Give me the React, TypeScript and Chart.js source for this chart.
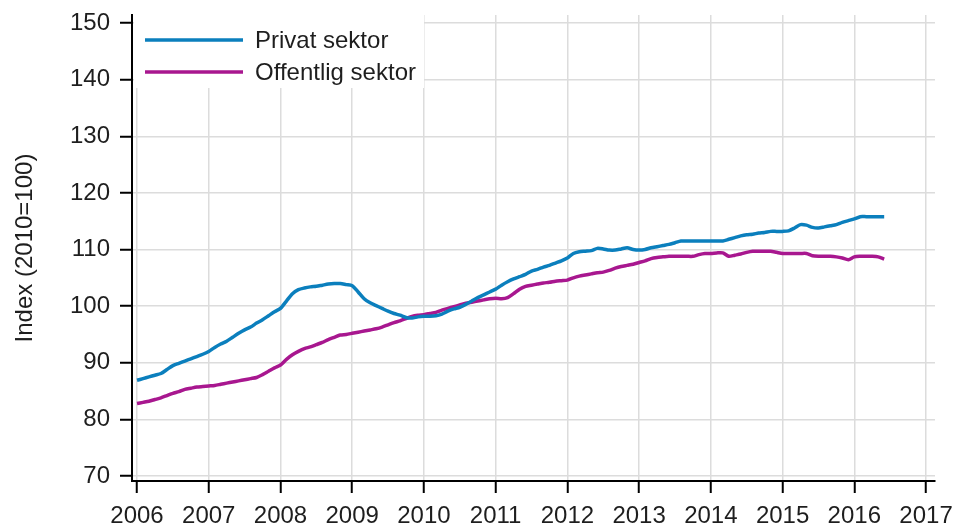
import React, { useEffect, useRef } from "react";
import { Chart, registerables } from "chart.js";

Chart.register(...registerables);

// Monthly index values, January 2006 – June 2016 (2010 = 100)
const startYear = 2006;

const privatSektor = [
  // 2006
  86.9, 87.2, 87.5, 87.8, 88.1, 88.8, 89.5, 89.9, 90.3, 90.7, 91.1, 91.5,
  // 2007
  92.0, 92.7, 93.3, 93.8, 94.5, 95.2, 95.8, 96.3, 97.0, 97.6, 98.3, 99.0,
  // 2008
  99.6, 100.9, 102.2, 102.9, 103.2, 103.4, 103.5, 103.7, 103.9, 104.0, 104.0, 103.8,
  // 2009
  103.6, 102.5, 101.3, 100.6, 100.1, 99.6, 99.1, 98.7, 98.4, 98.0, 97.9, 98.1,
  // 2010
  98.2, 98.2, 98.3, 98.6, 99.1, 99.5, 99.8, 100.3, 100.9, 101.5, 102.0, 102.5,
  // 2011
  103.0, 103.7, 104.3, 104.8, 105.2, 105.6, 106.2, 106.5, 106.9, 107.2, 107.6, 108.0,
  // 2012
  108.5, 109.3, 109.6, 109.7, 109.8, 110.2, 110.1, 109.9, 109.9, 110.1, 110.3, 110.0,
  // 2013
  109.9, 110.0, 110.3, 110.5, 110.7, 110.9, 111.2, 111.5, 111.5, 111.5, 111.5, 111.5,
  // 2014
  111.5, 111.5, 111.5, 111.8, 112.1, 112.4, 112.6, 112.7, 112.9, 113.0, 113.2, 113.2,
  // 2015
  113.2, 113.3, 113.8, 114.4, 114.3, 113.9, 113.8, 114.0, 114.2, 114.4, 114.8, 115.1,
  // 2016
  115.4, 115.8, 115.8, 115.8, 115.8, 115.8,
];

const offentligSektor = [
  // 2006
  82.8, 83.0, 83.2, 83.5, 83.8, 84.2, 84.6, 84.9, 85.3, 85.5, 85.7, 85.8,
  // 2007
  85.9, 86.0, 86.2, 86.4, 86.6, 86.8, 87.0, 87.2, 87.4, 87.9, 88.5, 89.1,
  // 2008
  89.6, 90.6, 91.4, 92.0, 92.5, 92.8, 93.2, 93.6, 94.1, 94.5, 94.9, 95.0,
  // 2009
  95.2, 95.4, 95.6, 95.8, 96.0, 96.3, 96.7, 97.1, 97.4, 97.8, 98.2, 98.4,
  // 2010
  98.5, 98.7, 98.9, 99.3, 99.6, 99.9, 100.2, 100.5, 100.7, 100.9, 101.1, 101.3,
  // 2011
  101.4, 101.3, 101.5, 102.2, 103.0, 103.5, 103.7, 103.9, 104.1, 104.2, 104.4, 104.5,
  // 2012
  104.6, 105.0, 105.3, 105.5, 105.7, 105.9, 106.0, 106.3, 106.7, 107.0, 107.2, 107.4,
  // 2013
  107.7, 108.0, 108.4, 108.6, 108.7, 108.8, 108.8, 108.8, 108.8, 108.8, 109.1, 109.3,
  // 2014
  109.3, 109.4, 109.4, 108.8, 109.0, 109.2, 109.5, 109.7, 109.7, 109.7, 109.7, 109.5,
  // 2015
  109.3, 109.3, 109.3, 109.3, 109.3, 108.9, 108.8, 108.8, 108.8, 108.7, 108.5, 108.2,
  // 2016
  108.7, 108.8, 108.8, 108.8, 108.7, 108.3,
];

const seriesLabels = ["Privat sektor", "Offentlig sektor"];
const seriesColors = ["#0b7fbd", "#a8178f"];

const xTickLabels = [2006, 2007, 2008, 2009, 2010, 2011, 2012, 2013, 2014, 2015, 2016, 2017];
const yTickLabels = [70, 80, 90, 100, 110, 120, 130, 140, 150];
const yAxisTitle = "Index (2010=100)";

const FONT = "'Liberation Sans', Arial, sans-serif";
const FONT_SIZE = 24;
const TEXT_COLOR = "#1e1e1e";

const toPoints = (vals: number[]) =>
  vals.map((v, i) => ({ x: startYear + i / 12, y: v }));

const legendPlugin = {
  id: "insideLegend",
  afterDraw(chart: any) {
    const { ctx, chartArea } = chart;
    const left = chartArea.left;
    const top = chartArea.top;
    ctx.save();
    ctx.fillStyle = "#ffffff";
    ctx.fillRect(left + 2, top, 290, 73);
    chart.data.datasets.forEach((ds: any, i: number) => {
      const y = top + 25 + i * 32;
      ctx.strokeStyle = ds.borderColor;
      ctx.lineWidth = 3.5;
      ctx.lineCap = "butt";
      ctx.beginPath();
      ctx.moveTo(left + 13, y);
      ctx.lineTo(left + 111, y);
      ctx.stroke();
      ctx.fillStyle = TEXT_COLOR;
      ctx.font = `${FONT_SIZE}px ${FONT}`;
      ctx.textBaseline = "middle";
      ctx.textAlign = "left";
      ctx.fillText(ds.label, left + 123, y + 1);
    });
    ctx.restore();
  },
};

export default function App() {
  const canvasRef = useRef<HTMLCanvasElement | null>(null);

  useEffect(() => {
    if (!canvasRef.current) return;
    const chart = new Chart(canvasRef.current, {
      type: "line",
      data: {
        datasets: [
          {
            label: seriesLabels[0],
            data: toPoints(privatSektor),
            borderColor: seriesColors[0],
            backgroundColor: seriesColors[0],
            borderWidth: 3.5,
            pointRadius: 0,
            tension: 0.25,
          },
          {
            label: seriesLabels[1],
            data: toPoints(offentligSektor),
            borderColor: seriesColors[1],
            backgroundColor: seriesColors[1],
            borderWidth: 3.5,
            pointRadius: 0,
            tension: 0.25,
          },
        ],
      },
      options: {
        responsive: false,
        animation: false,
        layout: { padding: { top: 15, right: 20, bottom: 0, left: 0 } },
        plugins: {
          legend: { display: false },
          tooltip: { enabled: false },
        },
        scales: {
          x: {
            type: "linear",
            min: 2005.93,
            max: 2017.125,
            afterBuildTicks: (scale: any) => {
              scale.ticks = xTickLabels.map((v) => ({ value: v }));
            },
            afterFit: (scale: any) => {
              scale.height = 48;
              scale.paddingLeft = 0;
              scale.paddingRight = 0;
            },
            ticks: {
              includeBounds: false,
              autoSkip: false,
              maxRotation: 0,
              padding: 9,
              color: TEXT_COLOR,
              font: { family: FONT, size: FONT_SIZE },
              callback: (v: any) => String(v),
            },
            grid: {
              color: "#dcdcdc",
              lineWidth: 1.5,
              tickColor: "#000000",
              tickLength: 12,
              tickWidth: 2,
            },
            border: { color: "#000000", width: 2 },
          },
          y: {
            type: "linear",
            min: 69.117,
            max: 151.413,
            afterBuildTicks: (scale: any) => {
              scale.ticks = yTickLabels.map((v) => ({ value: v }));
            },
            afterFit: (scale: any) => {
              scale.width = 132;
              scale.paddingTop = 0;
              scale.paddingBottom = 0;
            },
            ticks: {
              includeBounds: false,
              padding: 10,
              color: TEXT_COLOR,
              font: { family: FONT, size: FONT_SIZE },
              callback: (v: any) => String(v),
            },
            grid: {
              color: "#dcdcdc",
              lineWidth: 1.5,
              tickColor: "#000000",
              tickLength: 12,
              tickWidth: 2,
            },
            border: { color: "#000000", width: 2 },
            title: {
              display: true,
              text: yAxisTitle,
              color: TEXT_COLOR,
              font: { family: FONT, size: FONT_SIZE },
              padding: { top: 11, bottom: 0 },
            },
          },
        },
      },
      plugins: [legendPlugin],
    });
    return () => chart.destroy();
  }, []);

  return (
    <div style={{ position: "absolute", left: 0, top: 0, width: 955, height: 529, background: "#fff" }}>
      <canvas ref={canvasRef} width={955} height={529} style={{ display: "block" }} />
    </div>
  );
}
